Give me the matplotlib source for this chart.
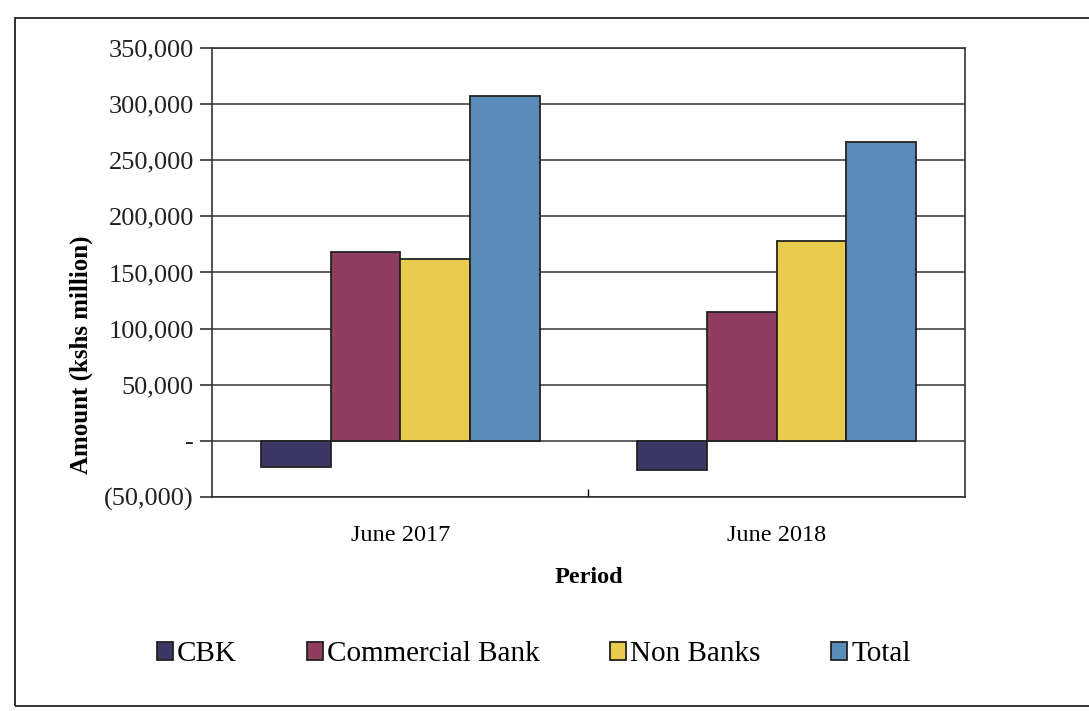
import matplotlib.pyplot as plt
import numpy as np
from matplotlib.patches import Rectangle
from matplotlib.ticker import FuncFormatter

plt.rcParams['font.family'] = ['Liberation Serif', 'DejaVu Serif']

periods = ['June 2017', 'June 2018']
series = ['CBK', 'Commercial Bank', 'Non Banks', 'Total']
cbk = [-23000, -26000]
commercial = [168000, 115000]
non_banks = [162000, 178000]
total = [307000, 266000]
colors = ['#3b3866', '#8f3d5e', '#e9cb4e', '#5b8bb8']


def fmt_amount(v, pos):
    if v == 0:
        return '-'
    if v < 0:
        return f'({abs(v):,.0f})'
    return f'{v:,.0f}'


fig = plt.figure(figsize=(10.89, 7.11), dpi=100)
ax = fig.add_axes([0.1947, 0.301, 0.6913, 0.6315])

x = np.arange(len(periods))
width = 0.185
values = [cbk, commercial, non_banks, total]
for i, (name, vals) in enumerate(zip(series, values)):
    ax.bar(x + (i - 1.5) * width, vals, width, color=colors[i],
           edgecolor='#222222', linewidth=1.3, label=name, zorder=3)

ax.set_xlim(-0.5, 1.5)
ax.set_ylim(-50000, 350000)
ax.set_yticks(np.arange(-50000, 350001, 50000))
ax.yaxis.set_major_formatter(FuncFormatter(fmt_amount))
ax.yaxis.grid(True, color='#333333', linewidth=1.1, zorder=0)

ax.set_xticks(x)
ax.set_xticklabels(periods)
ax.set_xticks([0.5], minor=True)
ax.tick_params(axis='x', which='major', length=0, pad=20, labelsize=17.5)
ax.tick_params(axis='x', which='minor', length=6, direction='in', width=1)
ax.tick_params(axis='y', length=9, width=1.1, labelsize=19, pad=4, colors='#222222')

for s in ax.spines.values():
    s.set_color('#333333')
    s.set_linewidth(1.2)

ax.set_ylabel('Amount (kshs million)', fontsize=18, fontweight='bold')
ax.yaxis.set_label_coords(-0.158, 0.316)
ax.set_xlabel('Period', fontsize=17.5, fontweight='bold', labelpad=15)

fig.legend(loc='center', bbox_to_anchor=(0.49, 0.08), ncol=4, frameon=False,
           fontsize=21, handlelength=0.55, handleheight=0.55, handletextpad=0.15,
           columnspacing=2.4)

# outer border around the whole chart
fig.patches.append(Rectangle((15 / 1089, 5 / 711), 1.1, 688 / 711,
                             transform=fig.transFigure, fill=False,
                             edgecolor='#222222', linewidth=1.3))

fig.savefig('out.png', dpi=100)
